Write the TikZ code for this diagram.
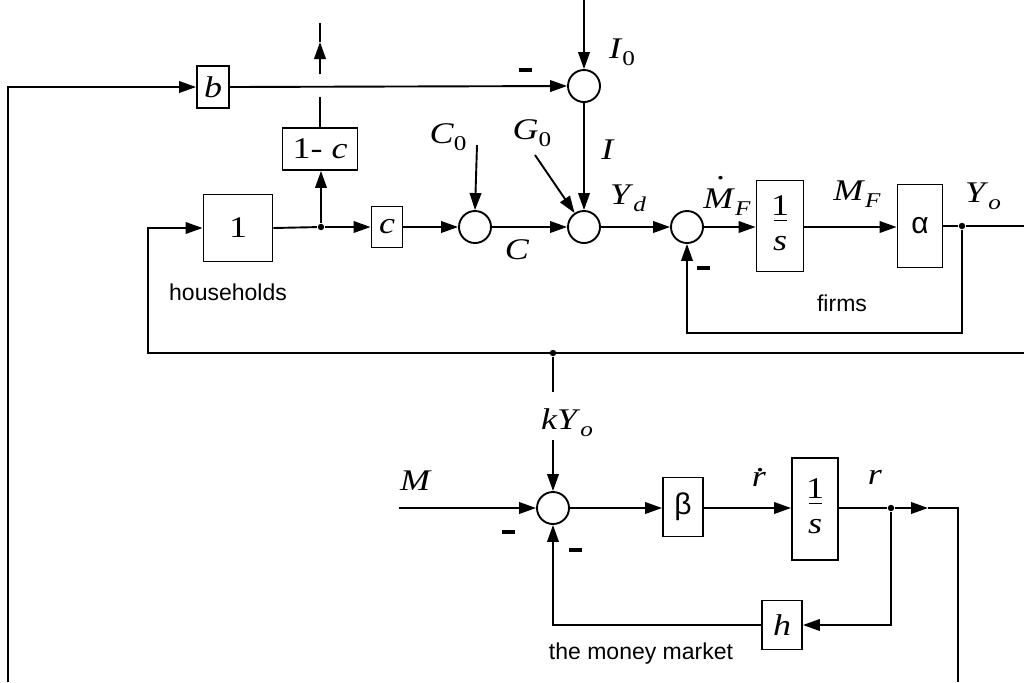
\documentclass[tikz,border=0pt]{standalone}
\usepackage{fontspec}
\setmainfont{Liberation Serif}
\setsansfont{Liberation Sans}
\newfontfamily\vf{Liberation Serif}[FakeStretch=1.2]
\usetikzlibrary{arrows.meta}
\newcommand\vs[2]{\textit{#1}\raisebox{-3.5pt}{\fontsize{10.5}{11}\selectfont #2}}
\newcommand\dotover[3]{\setbox0\hbox{#1}\rlap{\hbox to \wd0{\hss\kern#3\raisebox{\dimexpr\ht0+#2\relax}{.}\hss}}\box0}
\newcommand\fracs{\begin{tabular}{@{}c@{}}1\\[-14pt]\rule{6.5pt}{0.9pt}\\[-2.5pt]\textit{s}\end{tabular}}
\tikzset{
  blk/.style 2 args={draw, minimum width=#1, minimum height=#2, inner sep=0pt, font=\vf\fontsize{15}{17}\selectfont},
  sumc/.style={draw, circle, minimum size=16pt, inner sep=0pt},
  arr/.style={-{Triangle[length=8.5pt,width=5.8pt]}},
  dotn/.style={circle, fill, inner sep=0pt, minimum size=3.2pt},
  lbl/.style={inner sep=0pt, font=\vf\fontsize{15}{17}\selectfont},
  sans/.style={inner sep=0pt, font=\sffamily\fontsize{11.5}{13}\selectfont},
  minus/.style={inner sep=0pt}
}
\begin{document}
\begin{tikzpicture}[x=0.5pt,y=-0.5pt,line width=0.95pt]
\useasboundingbox (0,0) rectangle (1024,682);
% blocks
\node[blk={16pt}{21pt}] (b) at (213,87) {\textit{b}};
\node[blk={37.5pt}{21pt}] (omc) at (320,149) {1- \textit{c}};
\node[blk={34.5pt}{33.5pt}] (one) at (238,228) {1};
\node[blk={15.5pt}{20.5pt}] (c) at (387,227) {\textit{c}};
\node[sumc] (cs) at (475,227) {};
\node[sumc] (ys) at (584,227) {};
\node[sumc] (is) at (584,86) {};
\node[sumc] (fs) at (687,227) {};
\node[blk={23.5pt}{45.5pt}] (int1) at (780,226) {\fracs};
\node[blk={22.5pt}{41.5pt}, font=\sffamily\fontsize{15}{17}\selectfont] (alpha) at (920,226) {α};
\node[dotn] (yodot) at (962,226) {};
\node[dotn] (d1) at (321,227) {};
\node[dotn] (kdot) at (553,353) {};
\node[sumc] (ms) at (553,508) {};
\node[blk={20pt}{29.5pt}, font=\sffamily\fontsize{15}{17}\selectfont] (beta) at (683,507) {β};
\node[blk={23pt}{51pt}] (int2) at (815,509) {\fracs};
\node[dotn] (rdotn) at (891,508) {};
\node[blk={20pt}{24.5pt}] (h) at (782,625) {\textit{h}};
% coordinates
\coordinate (bl) at (8,682);
\coordinate (i0) at (584,0);
\coordinate (g0) at (535,155);
\coordinate (c0) at (477,145);
\coordinate (yoR) at (1024,226);
\coordinate (fbR) at (962,333);
\coordinate (fbL) at (687,333);
\coordinate (bigR) at (1024,353);
\coordinate (bigL) at (148,353);
\coordinate (up1) at (320,97);
\coordinate (up2) at (320,74);
\coordinate (uptip) at (320,42);
\coordinate (uptop) at (320,23);
\coordinate (kbreak) at (553,392);
\coordinate (kstart) at (553,440);
\coordinate (mstart) at (399,508);
\coordinate (rtip) at (928,508);
\coordinate (rcorner) at (958,508);
\coordinate (rbottom) at (958,682);
% connectors
\draw[arr] (bl) |- (b.west);
\draw[arr] (b.east) -- (is.west);
\draw[arr] (i0) -- (is.north);
\draw[arr] (is.south) -- (ys.north);
\draw[arr] (g0) -- (ys.124);
\draw[arr] (c0) -- (cs.north);
\draw[arr] (c.east) -- (cs.west);
\draw[arr] (cs.east) -- (ys.west);
\draw[arr] (ys.east) -- (fs.west);
\draw[arr] (fs.east) -- (int1.west |- fs.east);
\draw[arr] (int1.east |- fs.east) -- (alpha.west |- fs.east);
\draw (alpha.east |- yodot) -- (yodot) -- (yoR);
\draw[arr] (yodot) -- (fbR) -- (fbL) -- (fs.south);
\draw[arr] (bigR) -- (bigL) |- (one.west);
\draw (one.east) -- (d1);
\draw[arr] (d1) -- (c.west);
\draw[arr] (d1) -- (omc.south -| d1);
\draw (omc.north -| up1) -- (up1);
\draw[arr] (up2) -- (uptip);
\draw (uptip) -- (uptop);
\draw (kdot) -- (kbreak);
\draw[arr] (kstart) -- (ms.north);
\draw[arr] (mstart) -- (ms.west);
\draw[arr] (ms.east) -- (beta.west |- ms.east);
\draw[arr] (beta.east |- ms.east) -- (int2.west |- ms.east);
\draw (int2.east |- rdotn) -- (rdotn);
\draw[arr] (rdotn) -- (rtip);
\draw (rtip) -- (rcorner) -- (rbottom);
\draw[arr] (rdotn) |- (h.east);
\draw[arr] (h.west) -| (ms.south);
% labels
\node[lbl] (lC0) at (448,137) {\vs{C}{0}};
\node[lbl] (lC) at (517,250) {\textit{C}};
\node[lbl] (lG0) at (532,133) {\vs{G}{0}};
\node[lbl] (lI) at (608,150) {\textit{I}};
\node[lbl] (lI0) at (622,52) {\vs{I}{0}};
\node[lbl] (lYd) at (628,198) {\vs{Y}{\textit{d}}};
\node[lbl] (lMF) at (727,196) {\dotover{\textit{M}}{4.5pt}{1.5pt}\raisebox{-3.5pt}{\fontsize{10.5}{11}\selectfont\textit{F}}};
\node[lbl] (lMF2) at (857,194) {\vs{M}{\textit{F}}};
\node[lbl] (lYo) at (983,196) {\vs{Y}{\textit{o}}};
\node[lbl] (lkYo) at (567,423) {\textit{kY}\raisebox{-3.5pt}{\fontsize{10.5}{11}\selectfont\textit{o}}};
\node[lbl] (lM) at (416,481) {\textit{M}};
\node[lbl] (lrd) at (759,477) {\dotover{\textit{r}}{0.5pt}{1pt}};
\node[lbl] (lr) at (875,477) {\textit{r}};
\node[sans] (lhh) at (228,292) {households};
\node[sans] (lfirms) at (842,303) {firms};
\node[sans] (lmm) at (641,654) {the money market};
% minus signs
\node[minus] (m1) at (525,70) {\rule{6.5pt}{2pt}};
\node[minus] (m2) at (703,268) {\rule{6.5pt}{2pt}};
\node[minus] (m3) at (508,532) {\rule{6.5pt}{2pt}};
\node[minus] (m4) at (575,550) {\rule{6.5pt}{2pt}};
\end{tikzpicture}
\end{document}
